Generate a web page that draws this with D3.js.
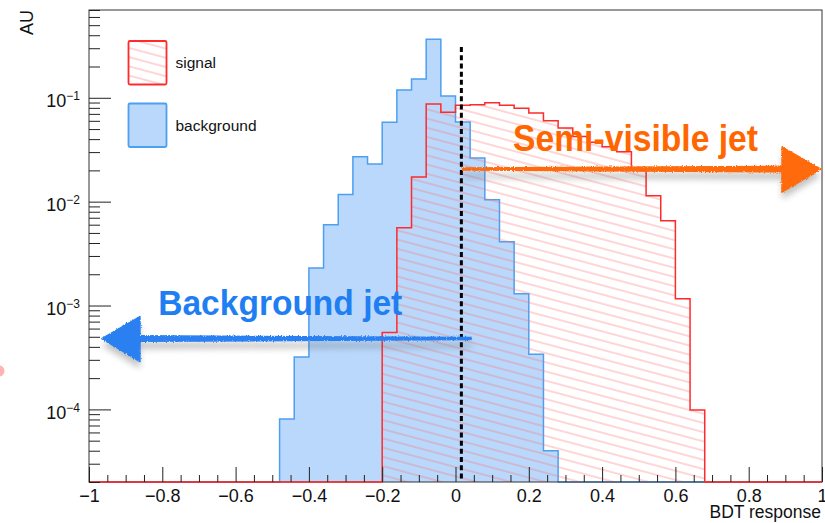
<!DOCTYPE html>
<html>
<head>
<meta charset="utf-8">
<script src="https://cdn.jsdelivr.net/npm/d3@7"></script>
<style>
  html, body { margin: 0; padding: 0; background: #fff; }
  svg { display: block; }
  text { font-family: "Liberation Sans", Arial, Helvetica, sans-serif; }
</style>
</head>
<body>
<svg id="chart" width="825" height="523"></svg>
<script>
// ---- BDT response histograms: 50 bins of width 0.04 over [-1, 1] ----
const binLow = -1;
const binWidth = 0.04;
const nBins = 50;

// normalised background (QCD-like) jets
const background = [
  0, 0, 0, 0, 0, 0, 0, 0, 0, 0,
  0, 0, 0, 8.1e-5, 3.2e-4, 2.3e-3, 6.0e-3, 1.17e-2, 2.7e-2, 2.3e-2,
  5.8e-2, 0.119, 0.152, 0.367, 0.104, 0.0584, 0.0263, 0.01045, 4.1e-3, 1.3e-3,
  3.4e-4, 4.0e-5, 0, 0, 0, 0, 0, 0, 0, 0,
  0, 0, 0, 0, 0, 0, 0, 0, 0, 0
];

// normalised signal (semi-visible) jets
const signal = [
  0, 0, 0, 0, 0, 0, 0, 0, 0, 0,
  0, 0, 0, 0, 0, 0, 0, 0, 0, 0,
  5.5e-4, 5.6e-3, 1.73e-2, 0.087, 0.0726, 0.0847, 0.0857, 0.0895, 0.0847, 0.0792,
  0.0713, 0.0601, 0.0512, 0.0425, 0.0373, 0.0338, 0.0303, 0.0199, 0.0114, 6.55e-3,
  1.16e-3, 9.85e-5, 0, 0, 0, 0, 0, 0, 0, 0
];

const xTickValues = [-1, -0.8, -0.6, -0.4, -0.2, 0, 0.2, 0.4, 0.6, 0.8, 1];
const xTickLabels = ["\u22121", "\u22120.8", "\u22120.6", "\u22120.4", "\u22120.2", "0", "0.2", "0.4", "0.6", "0.8", "1"];
const yTickValues = [1e-4, 1e-3, 1e-2, 1e-1];
const yTickExponents = ["\u22124", "\u22123", "\u22122", "\u22121"];
const legendLabels = ["signal", "background"];

// cut on the BDT output and the annotation arrows (data coordinates)
const cutValue = 0.016;
const cutTop = 0.308;
const svjArrow = { from: 0.0177, base: 0.891, tip: 0.997, level: 0.0206 };
const bkgArrow = { from: 0.044, base: -0.861, tip: -0.965, level: 4.81e-4 };
const svjLabel = { text: "Semi-visible jet", x: 0.157, y: 0.0309 };
const bkgLabel = { text: "Background jet", x: -0.811, y: 8.1e-4 };

// ---- layout ----
const svg = d3.select("#chart");
const frame = { left: 89, right: 822, top: 10, bottom: 482 };

const x = d3.scaleLinear().domain([-1, 1]).range([frame.left, frame.right]);
const y = d3.scaleLog().domain([2e-5, 0.7]).range([frame.bottom, frame.top]);

const edges = d3.range(nBins + 1).map(i => binLow + i * binWidth);

const defs = svg.append("defs");

// red hatch like ROOT fill style 3354-ish
const hatch = defs.append("pattern")
  .attr("id", "hatch")
  .attr("patternUnits", "userSpaceOnUse")
  .attr("width", 12).attr("height", 8.9)
  .attr("patternTransform", "rotate(15)");
hatch.append("line")
  .attr("x1", 0).attr("x2", 12).attr("y1", 4).attr("y2", 4)
  .attr("stroke", "#ff6b6b").attr("stroke-opacity", 0.7).attr("stroke-width", 0.8);

// soft shadow used behind the hand-drawn arrows and the cut line
const blur = defs.append("filter").attr("id", "blur")
  .attr("x", "-20%").attr("y", "-50%").attr("width", "140%").attr("height", "200%");
blur.append("feGaussianBlur").attr("stdDeviation", 3);

const blurSmall = defs.append("filter").attr("id", "blurSmall")
  .attr("x", "-200%").attr("y", "-10%").attr("width", "500%").attr("height", "120%");
blurSmall.append("feGaussianBlur").attr("stdDeviation", 1.6);

// brush-like rough edge
const rough = defs.append("filter").attr("id", "rough")
  .attr("x", "-5%").attr("y", "-30%").attr("width", "110%").attr("height", "160%");
rough.append("feTurbulence").attr("type", "fractalNoise")
  .attr("baseFrequency", "0.9 0.6").attr("numOctaves", 2).attr("seed", 3).attr("result", "noise");
rough.append("feDisplacementMap").attr("in", "SourceGraphic").attr("in2", "noise")
  .attr("scale", 3).attr("xChannelSelector", "R").attr("yChannelSelector", "G");

// ---- histogram paths ----
function stepPoints(vals) {
  const pts = [];
  vals.forEach((v, i) => {
    const yy = v > 0 ? y(v) : frame.bottom;
    pts.push([x(edges[i]), yy], [x(edges[i + 1]), yy]);
  });
  return pts;
}
const line = d3.line();

const bkgPts = stepPoints(background);
const sigPts = stepPoints(signal);

svg.append("path")
  .attr("d", line([[x(edges[0]), frame.bottom], ...bkgPts, [x(edges[nBins]), frame.bottom]]) + "Z")
  .attr("fill", "#b9d8fb").attr("stroke", "none");
svg.append("path")
  .attr("d", line(bkgPts))
  .attr("fill", "none").attr("stroke", "#4d9ff0").attr("stroke-width", 1.5);

svg.append("path")
  .attr("d", line([[x(edges[0]), frame.bottom], ...sigPts, [x(edges[nBins]), frame.bottom]]) + "Z")
  .attr("fill", "url(#hatch)").attr("stroke", "none");

// ---- frame ----
svg.append("rect")
  .attr("x", frame.left).attr("y", frame.top)
  .attr("width", frame.right - frame.left).attr("height", frame.bottom - frame.top)
  .attr("fill", "none").attr("stroke", "#333").attr("stroke-width", 1);

svg.append("path")
  .attr("d", line(sigPts))
  .attr("fill", "none").attr("stroke", "#ff2a2a").attr("stroke-width", 1.5);

// ---- x axis (ticks point into the frame) ----
const xMinor = d3.range(-1, 1.0001, 0.05).map(v => +v.toFixed(2))
  .filter(v => !xTickValues.some(t => Math.abs(t - v) < 1e-9));

const gxMinor = svg.append("g").attr("transform", `translate(0,${frame.bottom})`)
  .call(d3.axisBottom(x).tickValues(xMinor).tickFormat("").tickSizeInner(-7).tickSizeOuter(0));
const gx = svg.append("g").attr("transform", `translate(0,${frame.bottom})`)
  .call(d3.axisBottom(x).tickValues(xTickValues)
    .tickFormat((d, i) => xTickLabels[i]).tickSizeInner(-15).tickSizeOuter(0).tickPadding(7));
[gxMinor, gx].forEach(g => {
  g.select(".domain").remove();
  g.selectAll(".tick line").attr("stroke", "#222");
});
gx.selectAll(".tick text")
  .attr("font-size", 18).attr("fill", "#111")
  .attr("font-family", "'Liberation Sans', Arial, sans-serif");

svg.append("text")
  .attr("x", frame.right - 1).attr("y", 518)
  .attr("text-anchor", "end").attr("font-size", 17.5).attr("fill", "#111")
  .text("BDT response");

// ---- y axis (log, ticks point into the frame) ----
const yMinor = [];
[1e-5, 1e-4, 1e-3, 1e-2, 1e-1].forEach(d => {
  for (let k = 2; k <= 9; k++) {
    const v = d * k;
    if (v >= 2e-5 && v <= 0.7001) yMinor.push(v);
  }
});
const gyMinor = svg.append("g").attr("transform", `translate(${frame.left},0)`)
  .call(d3.axisLeft(y).tickValues(yMinor).tickFormat("").tickSizeInner(-11).tickSizeOuter(0));
const gy = svg.append("g").attr("transform", `translate(${frame.left},0)`)
  .call(d3.axisLeft(y).tickValues(yTickValues).tickFormat("").tickSizeInner(-22).tickSizeOuter(0).tickPadding(9));
[gyMinor, gy].forEach(g => {
  g.select(".domain").remove();
  g.selectAll(".tick line").attr("stroke", "#222");
});
gy.selectAll(".tick text").each(function (d, i) {
  const t = d3.select(this)
    .attr("font-size", 18).attr("fill", "#111").attr("dy", "0.5em")
    .attr("font-family", "'Liberation Sans', Arial, sans-serif");
  t.append("tspan").text("10");
  t.append("tspan").attr("font-size", 12).attr("dy", -7).text(yTickExponents[i]);
});

svg.append("text")
  .attr("transform", `translate(33,${frame.top}) rotate(-90)`)
  .attr("text-anchor", "end").attr("font-size", 18).attr("fill", "#111")
  .text("AU");

// ---- cut line ----
const cutX = x(cutValue);
svg.append("line")
  .attr("x1", cutX + 1).attr("x2", cutX + 1).attr("y1", y(cutTop)).attr("y2", frame.bottom)
  .attr("stroke", "#777").attr("stroke-width", 5).attr("opacity", 0.45)
  .attr("filter", "url(#blurSmall)");
svg.append("line")
  .attr("x1", cutX).attr("x2", cutX).attr("y1", y(cutTop)).attr("y2", frame.bottom - 2)
  .attr("stroke", "#000").attr("stroke-width", 3).attr("stroke-dasharray", "5,3.2");

// ---- hand-drawn style arrows ----
function drawArrow(a, color, thinW, thickW) {
  const yc = y(a.level);
  const xs = x(a.from), xb = x(a.base), xt = x(a.tip);
  const dir = Math.sign(xt - xb);
  const shaft = [
    [xs, yc - thinW / 2], [xb + dir * 2, yc - thickW / 2],
    [xb + dir * 2, yc + thickW / 2], [xs, yc + thinW / 2]
  ];
  const head = [[xb, yc - 22], [xt, yc], [xb, yc + 23]];
  const g = svg.append("g");
  const sh = g.append("g").attr("transform", "translate(0,7)").attr("filter", "url(#blur)").attr("opacity", 0.35);
  sh.append("path").attr("d", line(shaft) + "Z").attr("fill", "#555");
  sh.append("path").attr("d", line(head) + "Z").attr("fill", "#555");
  const fg = g.append("g").attr("filter", "url(#rough)");
  fg.append("path").attr("d", line(shaft) + "Z").attr("fill", color);
  fg.append("path").attr("d", line(head) + "Z").attr("fill", color)
    .attr("stroke", color).attr("stroke-width", 1.5).attr("stroke-linejoin", "round");
}
drawArrow(svjArrow, "#ff6a0d", 3.5, 7);
drawArrow(bkgArrow, "#2a80f0", 3.5, 7);

svg.append("text")
  .attr("x", x(svjLabel.x)).attr("y", y(svjLabel.y))
  .attr("font-family", "Lato, 'Open Sans', sans-serif").attr("font-weight", 700)
  .attr("font-size", 36).attr("fill", "#ff6600")
  .attr("textLength", 245).attr("lengthAdjust", "spacingAndGlyphs")
  .text(svjLabel.text);

svg.append("text")
  .attr("x", x(bkgLabel.x)).attr("y", y(bkgLabel.y))
  .attr("font-family", "Lato, 'Open Sans', sans-serif").attr("font-weight", 700)
  .attr("font-size", 35).attr("fill", "#1f7ff2")
  .attr("textLength", 244).attr("lengthAdjust", "spacingAndGlyphs")
  .text(bkgLabel.text);

// stray marker at the left edge of the canvas
svg.append("circle").attr("cx", -1).attr("cy", 371).attr("r", 5.5).attr("fill", "#ffb3b3");

// ---- legend ----
const legend = svg.append("g");
const boxes = [
  { y: 41, fill: "url(#hatch)", stroke: "#ff2a2a" },
  { y: 103.5, fill: "#b9d8fb", stroke: "#4d9ff0" }
];
boxes.forEach((b, i) => {
  legend.append("rect")
    .attr("x", 128.5).attr("y", b.y).attr("width", 38).attr("height", 43.5)
    .attr("rx", 1.5)
    .attr("fill", b.fill).attr("stroke", b.stroke).attr("stroke-width", 1.8);
  legend.append("text")
    .attr("x", 175.5).attr("y", b.y + 27)
    .attr("font-size", 15.5).attr("fill", "#111")
    .text(legendLabels[i]);
});
</script>
</body>
</html>
